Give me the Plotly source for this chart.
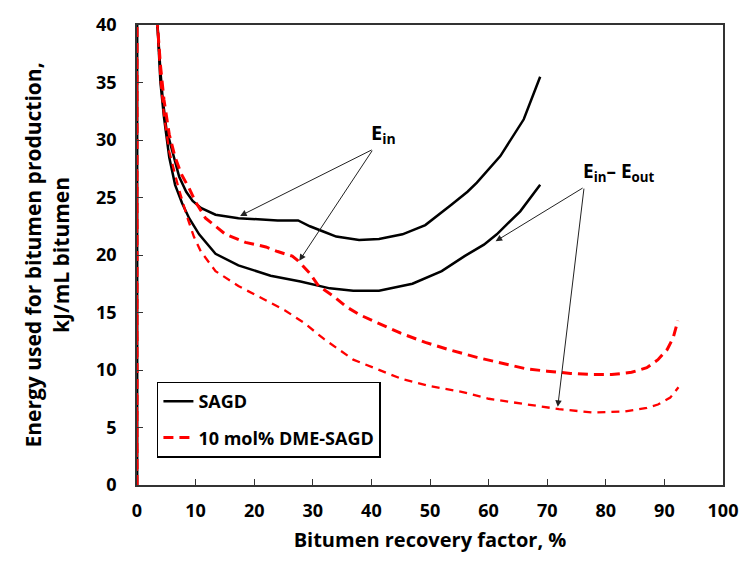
import plotly.graph_objects as go

# ---- data ----
sagd_in_x = [0, 0, 3.2, 3.5, 4.0, 4.4, 5.0, 5.9, 7.2, 8.4, 9.5, 10.9, 13.4, 17.3, 20, 24, 27.5,
             29.5, 32, 34, 37.9, 41.3, 45.3, 49.2, 53.7, 56.4, 58, 62, 66, 68.8]
sagd_in_y = [0, 300, 45, 40, 36, 33.5, 31, 29.2, 26.8, 25.5, 24.7, 24.1, 23.5, 23.2, 23.1, 23.0, 23.0,
             22.5, 22.0, 21.6, 21.3, 21.4, 21.8, 22.6, 24.4, 25.5, 26.3, 28.6, 31.8, 35.5]

sagd_net_x = [0, 0, 3.2, 3.5, 4.0, 4.6, 5.5, 6.5, 7.7, 8.9, 10.6, 13.4, 17.3, 22.8, 27.9, 32.9,
              36.9, 41.3, 47, 52, 55.9, 59.2, 61.4, 65.4, 68.8]
sagd_net_y = [0, 300, 45, 40, 35, 32, 28.5, 26.1, 24.5, 23.2, 21.8, 20.1, 19.1, 18.2, 17.7, 17.1,
              16.9, 16.9, 17.5, 18.6, 19.9, 20.9, 21.8, 23.8, 26.1]

dme_in_x = [0, 0, 3.2, 3.5, 4.0, 4.6, 5.5, 6.5, 7.6, 8.9, 10, 11.7, 15.1, 18.5, 22, 24, 26.5, 27.5,
            29.5, 31, 33.6, 35.7, 38, 42.4, 45, 49.2, 53, 58, 62, 66.4, 70, 74, 77.7, 81, 84.4,
            87, 88.9, 90.5, 91.5, 92.3]
dme_in_y = [0, 300, 45, 40, 36.5, 33.5, 30.5, 28.5, 27, 25.8, 24.6, 23.2, 21.8, 21.1, 20.7, 20.3, 19.9, 19.5,
            18.4, 17.3, 16.4, 15.5, 14.8, 13.8, 13.2, 12.4, 11.8, 11.1, 10.6, 10.1, 9.9, 9.7, 9.6, 9.6, 9.8,
            10.2, 10.9, 11.8, 12.8, 14.3]

dme_net_x = [0, 0, 3.2, 3.5, 4.0, 4.6, 5.5, 7.0, 8.5, 9.7, 10.9, 13.4, 17.3, 21.8, 25.2, 28.5, 31.9,
             36.9, 42.4, 45.3, 50, 55.4, 60, 66.4, 72, 77.7, 83.2, 87, 88.9, 91, 92.4]
dme_net_y = [0, 300, 45, 40, 35.3, 32.2, 29, 26, 23.4, 21.6, 20.3, 18.6, 17.3, 16.1, 15.2, 14.1, 12.7,
             10.9, 9.8, 9.2, 8.6, 8.1, 7.5, 7.0, 6.6, 6.3, 6.4, 6.7, 7.0, 7.6, 8.5]

x_ticks = [0, 10, 20, 30, 40, 50, 60, 70, 80, 90, 100]
y_ticks = [0, 5, 10, 15, 20, 25, 30, 35, 40]

FONT = "Open Sans"

fig = go.Figure()
fig.add_trace(go.Scatter(x=sagd_in_x, y=sagd_in_y, mode="lines", name="<b>SAGD</b>",
                         legendgroup="a", line=dict(color="black", width=2.5), showlegend=True))
fig.add_trace(go.Scatter(x=sagd_net_x, y=sagd_net_y, mode="lines", name="<b>SAGD</b>",
                         legendgroup="a", line=dict(color="black", width=2.5), showlegend=False))
fig.add_trace(go.Scatter(x=dme_in_x, y=dme_in_y, mode="lines", name="<b>10 mol% DME-SAGD</b>",
                         legendgroup="b", line=dict(color="#ff0000", width=3, dash="10px,6px"),
                         showlegend=True))
fig.add_trace(go.Scatter(x=dme_net_x, y=dme_net_y, mode="lines", name="<b>10 mol% DME-SAGD</b>",
                         legendgroup="b", line=dict(color="#ff0000", width=2.3, dash="8px,6px"),
                         showlegend=False))

arrow_common = dict(xref="x", yref="y", axref="x", ayref="y", showarrow=True,
                    arrowhead=2, arrowsize=1.3, arrowwidth=1, arrowcolor="#222", text="")
annotations = [
    dict(x=17.6, y=23.4, ax=40.3, ay=29.2, **arrow_common),
    dict(x=27.7, y=19.5, ax=40.3, ay=29.2, **arrow_common),
    dict(x=61.2, y=21.2, ax=76.3, ay=25.9, **arrow_common),
    dict(x=71.8, y=6.8, ax=76.3, ay=25.9, **arrow_common),
    dict(x=42.0, y=30.6, xref="x", yref="y", showarrow=False, text="<b>E<sub>in</sub></b>",
         font=dict(family=FONT, size=20, color="black")),
    dict(x=82.3, y=27.2, xref="x", yref="y", showarrow=False,
         text="<b>E<sub>in</sub>\u2013 E<sub>out</sub></b>",
         font=dict(family=FONT, size=19, color="black")),
]

fig.update_layout(
    width=750, height=565,
    margin=dict(l=137, r=17, t=17, b=80),
    paper_bgcolor="white", plot_bgcolor="white",
    font=dict(family=FONT, color="black"),
    annotations=annotations,
    legend=dict(x=0.034, y=0.225, xanchor="left", yanchor="top",
                bordercolor="black", borderwidth=1.5, bgcolor="white",
                font=dict(family=FONT, size=18, color="black"),
                traceorder="grouped", tracegroupgap=10),
)
fig.update_xaxes(range=[0, 100], tickvals=x_ticks, ticktext=[f"<b>{v}</b>" for v in x_ticks],
                 showgrid=False, zeroline=False, showline=True, linecolor="#333", linewidth=1.5,
                 mirror=True, ticks="inside", ticklen=6, tickcolor="#333",
                 tickfont=dict(family=FONT, size=18, color="black"), ticklabelstandoff=9,
                 title=dict(text="<b>Bitumen recovery factor, %</b>", font=dict(family=FONT, size=20),
                            standoff=12))
fig.update_yaxes(range=[0, 40], tickvals=y_ticks, ticktext=[f"<b>{v}</b>" for v in y_ticks],
                 showgrid=False, zeroline=False, showline=True, linecolor="#333", linewidth=1.5,
                 mirror=True, ticks="inside", ticklen=6, tickcolor="#333",
                 tickfont=dict(family=FONT, size=18, color="black"), ticklabelstandoff=15,
                 title=dict(text="<b>Energy used for bitumen production,<br>kJ/mL bitumen</b>",
                            font=dict(family=FONT, size=21), standoff=21))

fig.write_html("out.html")
